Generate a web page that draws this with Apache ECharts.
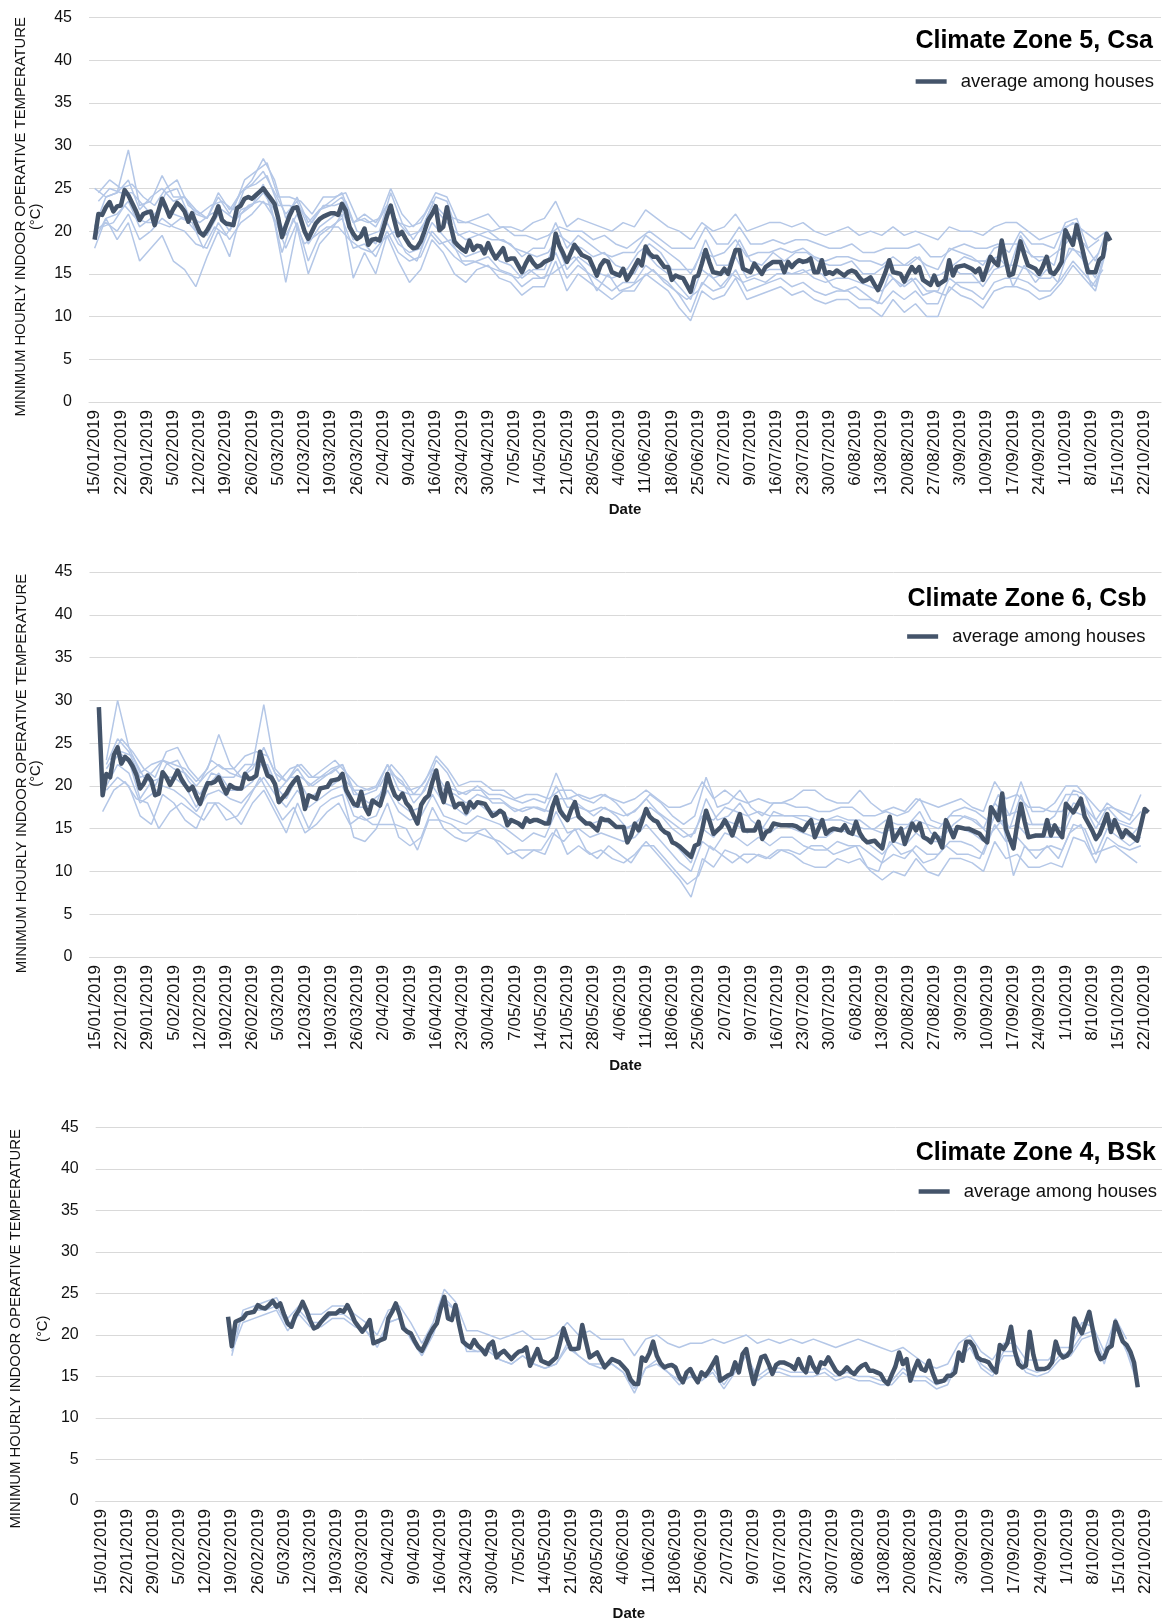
<!DOCTYPE html>
<html>
<head>
<meta charset="utf-8">
<script src="https://cdn.jsdelivr.net/npm/echarts@6/dist/echarts.min.js"></script>
<style>html,body{margin:0;padding:0;background:#fff}#c{width:1163px;height:1622px}</style>
</head>
<body>
<div id="c"></div>
<script>
// ---------- axis / tick labels ----------
const startDate = [2019, 0, 14];   // axis starts 14/01/2019 (first data day 15/01/2019)
const nDays = 286;                 // axis spans 14/01/2019 .. 26/10/2019
const dayOffset = 1;               // category index of 15/01/2019
const tickLabels = ['15/01/2019','22/01/2019','29/01/2019','5/02/2019','12/02/2019','19/02/2019','26/02/2019',
 '5/03/2019','12/03/2019','19/03/2019','26/03/2019','2/04/2019','9/04/2019','16/04/2019','23/04/2019',
 '30/04/2019','7/05/2019','14/05/2019','21/05/2019','28/05/2019','4/06/2019','11/06/2019','18/06/2019',
 '25/06/2019','2/07/2019','9/07/2019','16/07/2019','23/07/2019','30/07/2019','6/08/2019','13/08/2019',
 '20/08/2019','27/08/2019','3/09/2019','10/09/2019','17/09/2019','24/09/2019','1/10/2019','8/10/2019',
 '15/10/2019','22/10/2019'];
const panelTitles = ['Climate Zone 5, Csa', 'Climate Zone 6, Csb', 'Climate Zone 4, BSk'];
const avgName = 'average among houses';
const yNames = ['MINIMUM HOURLY INDOOR OPERATIVE TEMPERATURE\n(°C)',
                'MINIMUM HOURLY INDOOR OPERATIVE TEMPERATURE\n(°C)',
                'MINIMUM HOURLY INDOOR OPERATIVE TEMPERATURE\n\n(°C)'];

// ---------- Climate Zone 5, Csa (day 0 = 15/01/2019) ----------
const csaAvgStart = 0;
const csaAvg = [
 19.0,22.0,21.9,22.8,23.4,22.3,22.9,23.0,24.8,24.2,
 23.3,22.4,21.3,22.0,22.2,22.3,20.7,22.3,23.8,22.8,
 21.7,22.6,23.3,22.9,22.3,21.1,22.1,20.9,19.9,19.5,
 20.1,20.9,21.7,22.9,21.3,20.9,20.8,20.7,22.7,23.0,
 23.8,24.0,23.8,24.2,24.6,25.0,24.4,23.8,23.2,21.5,
 19.3,20.6,21.8,22.7,22.8,21.4,20.0,19.1,20.0,20.9,
 21.4,21.7,21.9,22.1,22.1,21.9,23.2,22.4,20.5,19.7,
 19.1,19.4,20.3,18.4,19.0,19.1,18.9,20.3,21.8,23.0,
 21.2,19.5,19.9,19.1,18.4,18.0,18.1,18.8,20.0,21.3,
 22.0,22.9,20.1,20.5,22.8,20.6,18.8,18.3,17.9,17.6,
 18.9,17.8,18.3,18.2,17.4,18.6,17.6,16.8,17.4,18.0,
 16.6,16.8,16.8,16.0,15.2,16.2,17.0,16.3,15.8,16.0,
 16.4,16.6,16.8,19.7,18.3,17.4,16.4,17.4,18.4,17.8,
 17.2,17.0,16.8,15.8,14.8,16.0,16.6,16.4,15.2,15.0,
 14.8,15.6,14.3,15.0,15.8,16.6,16.0,18.2,17.4,17.0,
 17.0,16.4,15.8,15.8,14.3,14.8,14.6,14.5,13.7,12.9,
 14.6,14.8,16.2,17.8,16.4,15.2,15.1,15.0,15.6,15.0,
 16.4,17.8,17.8,15.6,15.4,15.2,16.2,15.6,15.0,15.8,
 16.1,16.4,16.4,16.4,15.2,16.4,15.8,16.3,16.6,16.4,
 16.5,16.8,15.2,15.2,16.6,15.0,15.2,15.0,15.4,15.1,
 14.8,15.2,15.4,15.2,14.6,14.1,14.3,14.6,13.8,13.1,
 14.1,15.2,16.6,15.2,15.1,15.0,14.1,15.0,15.8,15.2,
 15.8,14.3,14.0,13.7,14.8,13.7,14.0,14.3,16.6,14.8,
 15.8,15.9,16.0,15.8,15.6,15.2,15.6,14.3,15.6,17.0,
 16.4,16.0,18.9,16.8,14.8,15.0,16.8,18.8,17.3,16.0,
 15.8,15.6,15.0,15.9,17.0,15.2,15.0,15.6,16.4,20.1,
 19.2,18.4,20.7,18.9,17.0,15.2,15.2,15.2,16.6,17.0,
 19.7,18.9];
const csaHouseStep = 3;
const csaHouseStarts = [0, 0, 0, 0, 0, 1, 2, 1];
const csaHouse1 = [
 25.0,24.0,24.5,29.5,23.0,23.5,26.5,24.0,24.0,22.5,
 21.5,24.5,22.5,24.5,26.0,28.5,26.0,21.5,24.0,21.0,
 22.5,23.5,24.5,21.0,22.0,21.0,23.0,21.0,20.5,21.0,
 23.5,22.0,21.5,21.0,21.5,22.0,20.5,20.5,20.0,21.0,
 21.5,23.5,20.5,21.5,21.0,20.5,20.0,21.0,20.5,22.5,
 21.5,20.5,20.0,19.0,21.0,20.0,20.5,22.0,20.0,20.5,
 21.0,21.0,20.5,21.0,20.0,19.5,20.0,20.5,19.5,20.0,
 19.5,20.5,19.5,20.0,19.5,19.0,20.5,20.0,20.0,19.5,
 20.5,21.0,21.0,20.0,19.0,19.5,20.0,21.0,20.0,19.0,
 20.0];
const csaHouse2 = [
 20.5,24.0,24.5,26.0,22.5,24.0,25.0,23.5,24.0,22.0,
 21.5,24.0,22.0,24.5,25.5,27.0,24.5,22.0,23.5,20.5,
 22.5,23.0,24.0,21.0,21.5,20.5,23.0,21.0,19.5,20.0,
 23.0,21.5,20.0,19.0,19.5,20.0,19.0,18.5,17.0,18.0,
 18.0,21.0,18.0,19.5,18.5,17.5,17.0,17.5,17.5,19.5,
 18.5,17.5,16.5,15.0,17.5,17.0,17.5,19.0,17.0,17.5,
 17.5,18.0,17.5,18.0,17.0,16.5,17.0,17.0,16.5,16.5,
 16.0,17.0,16.0,17.0,16.0,15.5,18.0,17.5,17.0,16.0,
 18.0,18.5,18.5,17.5,16.5,17.0,18.0,19.5,18.5,16.5,
 20.0];
const csaHouse3 = [
 19.0,21.5,22.0,23.5,20.5,21.5,23.0,22.0,21.5,20.0,
 19.5,22.0,20.0,22.5,23.0,24.5,22.5,19.5,22.0,18.5,
 20.5,21.5,22.5,19.0,19.5,18.5,21.0,18.5,17.5,18.0,
 21.0,19.5,18.0,17.0,17.5,18.0,16.5,16.0,14.5,15.5,
 15.5,19.0,15.5,17.0,16.0,15.0,14.5,15.0,15.0,17.5,
 16.0,15.0,13.5,12.0,15.5,14.5,15.0,17.0,14.5,15.0,
 15.5,15.5,15.0,15.5,14.5,14.0,14.5,14.5,14.0,13.5,
 13.0,14.5,13.5,14.5,13.0,13.0,16.0,15.0,15.0,13.5,
 15.5,16.0,16.0,15.5,14.5,14.5,16.0,18.0,16.5,14.5,
 19.0];
const csaHouse4 = [
 20.0,21.0,20.0,22.0,19.0,20.0,21.5,20.5,20.0,18.5,
 18.0,21.0,19.0,21.0,22.0,23.5,21.5,18.0,21.0,16.5,
 19.5,20.5,21.5,18.0,18.5,17.0,20.0,17.5,16.5,17.0,
 20.0,18.5,17.0,16.0,16.5,17.0,15.5,15.0,13.5,14.5,
 14.5,17.5,14.5,16.0,15.0,14.0,13.0,14.0,14.0,16.0,
 15.0,14.0,12.5,10.5,14.0,13.0,13.5,15.5,13.0,13.5,
 14.0,14.5,13.5,14.0,13.0,12.5,13.0,13.0,12.0,12.0,
 11.5,13.0,12.0,13.0,11.5,11.5,14.5,13.5,13.0,12.0,
 14.0,14.5,14.5,14.0,13.0,13.0,14.5,16.5,15.0,13.5,
 18.5];
const csaHouse5 = [
 18.0,21.5,19.0,21.0,16.5,18.0,19.5,16.5,15.5,13.5,
 17.0,20.0,17.0,22.0,23.0,25.5,21.0,14.0,20.5,15.0,
 18.5,20.0,22.0,14.5,17.5,15.0,19.5,16.5,14.0,15.5,
 19.0,17.5,15.0,14.0,15.5,16.0,14.5,14.0,12.5,13.5,
 13.5,16.5,13.0,15.0,14.0,13.0,12.0,13.0,13.0,15.0,
 14.0,13.0,11.0,9.5,13.0,12.0,12.5,14.5,12.0,12.5,
 13.0,13.5,12.5,13.0,12.0,11.5,12.0,12.0,11.0,11.0,
 10.0,12.0,10.5,11.5,10.0,10.0,13.5,12.5,12.0,11.0,
 13.0,13.5,13.5,13.0,12.0,12.5,14.0,16.0,14.5,13.0,
 18.0];
const csaHouse6 = [
 23.5,25.0,24.5,24.5,23.0,21.5,24.5,25.0,22.0,21.0,
 22.0,22.5,21.5,25.0,25.5,26.5,23.0,23.0,22.5,21.0,
 23.0,23.0,23.5,20.0,19.5,20.0,24.5,21.0,19.0,21.0,
 24.0,23.5,19.5,20.0,19.5,19.0,19.0,18.0,17.5,17.0,
 17.5,19.5,18.5,18.0,17.0,17.5,16.0,15.5,17.5,18.5,
 17.5,15.5,15.5,15.5,19.0,16.0,16.0,19.0,16.5,16.0,
 17.5,16.5,17.5,17.5,16.5,16.0,16.0,16.5,15.0,15.0,
 16.0,16.0,16.0,17.0,14.5,15.0,16.0,17.0,16.5,16.5,
 17.0,15.5,19.5,17.0,17.0,16.0,20.5,21.0,16.0,17.5];
const csaHouse7 = [
 20.5,21.0,23.0,21.5,21.0,21.0,20.5,21.5,21.0,18.0,
 20.5,19.5,21.5,23.0,23.5,23.0,17.5,21.5,18.5,19.5,
 20.5,20.5,19.0,18.0,17.5,19.0,20.0,17.5,16.5,20.0,
 18.5,19.0,16.5,16.5,16.0,15.5,15.0,14.5,15.5,14.5,
 15.0,16.0,17.0,15.5,13.0,15.0,13.0,13.5,14.5,15.5,
 14.0,13.0,12.0,13.0,15.0,13.5,15.0,14.0,14.5,14.0,
 15.0,15.0,15.0,15.5,15.0,13.5,13.0,13.5,12.5,11.5,
 15.0,13.5,14.5,12.5,13.0,12.5,14.0,14.0,14.0,15.5,
 17.5,13.5,16.0,14.0,15.5,14.0,18.0,17.5,13.5,15.5];
const csaHouse8 = [
 24.5,26.0,25.0,25.5,24.0,23.0,25.0,26.0,23.0,22.0,
 23.0,23.5,22.5,26.0,27.0,28.0,24.0,24.0,23.5,22.0,
 24.0,24.0,24.5,21.5,21.0,21.5,25.0,22.0,20.5,22.0,
 24.5,24.0,21.0,21.0,20.5,20.0,20.5,19.5,19.5,19.0,
 19.5,20.5,20.0,20.0,19.0,19.5,18.5,18.0,19.0,20.0,
 19.0,18.0,18.0,18.0,20.5,18.5,18.5,20.5,18.5,18.5,
 19.0,18.5,19.0,19.0,18.5,18.0,18.0,18.5,17.5,17.5,
 18.0,18.0,18.0,18.5,17.0,17.0,18.0,18.5,18.0,18.0,
 18.5,17.5,20.0,18.5,18.5,18.0,21.0,21.5,18.0,19.0];

// ---------- Climate Zone 6, Csb ----------
const csbAvgStart = 1;
const csbAvg = [
 29.2,18.9,21.4,21.0,23.6,24.5,22.6,23.4,23.0,22.3,
 21.3,19.7,20.3,21.2,20.6,18.9,19.1,21.6,21.0,20.1,
 20.9,21.8,20.8,20.1,19.5,19.9,18.8,17.9,19.2,20.3,
 20.3,20.5,21.0,20.0,19.1,20.1,19.8,19.7,19.7,21.4,
 20.8,20.9,21.2,24.0,22.5,21.2,21.0,20.2,18.1,18.6,
 19.1,19.9,20.5,21.0,19.5,17.3,18.9,18.7,18.5,19.7,
 19.8,19.9,20.6,20.7,20.8,21.4,19.5,18.7,17.9,17.7,
 19.3,17.5,16.7,18.3,18.0,17.7,19.2,21.4,20.0,18.9,
 18.5,19.1,18.0,17.5,16.5,15.6,17.8,18.5,18.9,20.5,
 21.8,19.5,18.1,20.3,18.8,17.5,17.9,17.9,16.9,18.1,
 17.5,18.1,18.0,17.9,17.2,16.5,16.7,17.1,16.8,15.4,
 16.0,15.8,15.6,15.2,16.2,15.8,16.0,16.0,15.8,15.6,
 15.6,17.5,18.7,17.1,16.5,16.0,17.2,18.1,16.4,16.0,
 15.6,15.6,15.2,14.8,16.2,16.0,16.0,15.6,15.2,15.2,
 15.2,13.4,14.2,15.6,14.8,16.0,17.3,16.4,16.0,15.8,
 15.0,14.6,14.4,13.4,13.2,12.9,12.5,12.1,11.7,13.0,
 13.2,15.0,17.1,15.8,14.4,14.8,15.2,16.0,15.2,14.2,
 15.5,16.7,14.8,14.8,14.8,14.8,15.8,13.8,14.6,14.8,
 15.6,15.5,15.4,15.4,15.4,15.4,15.3,15.0,14.8,15.5,
 16.0,14.0,15.0,16.0,14.4,14.8,15.0,14.9,14.8,15.4,
 14.6,14.4,15.8,14.5,13.8,13.4,13.5,13.6,13.1,12.7,
 14.8,16.4,13.6,14.3,15.0,13.2,14.4,15.6,14.8,15.6,
 14.0,13.8,13.4,14.4,13.8,12.8,16.0,15.0,14.0,15.2,
 15.1,15.0,15.0,14.8,14.6,14.4,13.8,13.4,17.5,16.8,
 16.0,19.1,15.0,13.8,12.7,15.5,17.9,15.8,14.0,14.1,
 14.2,14.2,14.2,16.0,14.2,15.4,14.6,14.0,17.9,17.4,
 16.9,17.7,18.5,16.4,15.6,14.8,13.8,14.4,15.5,16.7,
 14.6,16.0,15.0,14.0,14.8,14.4,14.0,13.6,15.4,17.3,
 16.9];
const csbHouseStep = 3;
const csbHouseStarts = [0, 0, 0, 0, 0, 1, 2, 1];
const csbHouse1 = [
 null,23.0,30.0,24.5,21.5,22.5,23.0,22.5,22.0,20.5,
 22.0,26.0,22.5,21.0,22.5,29.5,22.0,20.5,22.5,21.0,
 21.0,22.0,22.5,19.5,19.5,20.0,22.5,20.5,19.5,20.0,
 22.0,20.0,19.5,19.0,20.0,19.0,19.0,18.5,18.0,18.5,
 18.0,21.5,18.5,19.0,18.5,19.0,18.5,18.0,18.5,19.5,
 18.5,17.5,17.5,18.0,20.5,18.5,19.5,18.5,18.0,18.5,
 18.0,18.0,18.5,19.5,19.5,18.5,18.0,18.0,19.5,18.0,
 17.0,17.5,17.0,18.5,18.0,17.5,18.0,18.5,17.5,17.0,
 20.5,18.5,19.0,17.5,17.5,17.0,17.0,19.5,19.0,16.0,
 18.0,17.0,16.0,19.0];
const csbHouse2 = [
 null,22.5,25.5,24.0,21.0,21.5,23.0,22.0,21.5,20.0,
 21.5,22.5,21.5,21.0,22.0,24.5,21.5,20.5,22.0,20.0,
 21.0,21.5,22.5,19.0,19.0,19.5,22.5,19.5,19.0,19.0,
 21.5,19.5,19.0,18.0,19.0,18.5,18.5,17.5,17.0,17.5,
 17.0,20.0,17.5,17.5,17.0,17.5,17.0,16.5,17.0,18.5,
 17.0,16.0,15.0,14.0,16.5,16.0,17.5,17.0,16.5,17.0,
 16.5,16.5,16.5,16.0,15.5,16.0,16.5,16.0,16.0,15.0,
 14.5,15.0,15.0,16.0,15.5,15.0,16.5,16.5,16.0,15.0,
 18.0,16.5,17.0,15.5,15.5,15.5,15.0,18.0,17.5,15.0,
 17.5,16.0,15.5,17.0];
const csbHouse3 = [
 null,20.0,22.5,21.5,18.0,19.0,20.0,19.5,18.5,17.0,
 19.0,19.5,18.5,18.0,19.5,21.0,19.0,17.5,19.5,17.5,
 18.5,19.5,20.0,16.5,16.0,16.5,19.5,17.0,16.0,16.5,
 19.0,16.5,16.0,15.5,16.5,16.0,15.5,14.5,13.5,14.5,
 14.0,17.0,14.5,15.0,14.0,14.5,14.0,13.5,14.0,15.5,
 14.0,12.5,11.0,10.0,13.5,12.5,14.5,14.0,13.0,14.0,
 13.0,14.0,14.0,13.0,12.5,12.5,13.5,13.0,13.0,12.0,
 11.0,12.0,11.5,13.0,12.0,12.0,13.5,13.5,13.0,12.0,
 15.5,13.5,14.0,12.5,12.5,13.0,12.5,15.5,15.0,12.0,
 15.0,14.0,13.0,14.0];
const csbHouse4 = [
 null,19.5,21.0,20.0,16.5,15.5,19.0,18.0,16.0,15.0,
 18.0,18.0,17.0,15.5,18.0,19.5,17.0,14.5,18.0,15.0,
 17.5,18.5,19.0,14.0,13.5,15.0,18.0,14.0,13.0,14.0,
 17.5,15.0,14.0,13.5,14.5,14.0,13.5,12.5,11.5,12.5,
 12.0,15.0,12.0,13.0,12.0,12.5,11.5,11.0,12.0,13.5,
 12.0,10.5,9.0,7.0,11.5,10.5,12.5,12.0,11.0,12.0,
 11.5,12.5,12.0,11.0,10.5,10.5,11.5,11.0,11.5,10.0,
 9.0,10.0,9.5,11.5,10.0,9.5,11.5,11.5,11.0,10.0,
 13.5,11.5,12.0,10.5,10.5,11.0,10.5,14.0,13.5,11.0,
 14.0,13.0,12.5,13.0];
const csbHouse5 = [
 null,22.0,24.0,23.0,18.5,20.5,21.0,21.0,20.0,17.5,
 20.0,21.5,19.5,19.5,20.5,23.0,20.0,18.5,21.0,18.5,
 19.5,20.0,21.0,17.5,17.5,18.0,21.0,18.0,17.0,17.5,
 20.0,18.0,17.5,16.5,18.0,17.0,17.0,16.0,15.5,16.0,
 15.5,18.5,16.0,16.5,15.5,16.0,15.5,15.0,15.5,17.0,
 15.5,14.0,12.5,11.0,15.0,14.0,16.0,15.5,14.5,15.5,
 14.5,15.5,15.0,14.5,14.0,14.0,15.0,14.5,14.0,13.0,
 12.0,13.5,13.0,14.5,13.5,13.5,15.0,15.0,14.5,13.5,
 16.5,15.0,15.5,14.0,14.0,14.0,14.0,17.0,16.5,13.5,
 16.5,15.0,14.0,15.5];
const csbHouse6 = [
 null,22.5,24.0,23.5,21.0,20.0,22.5,23.0,20.5,19.0,
 21.5,21.0,21.0,22.5,22.5,22.5,19.5,21.0,21.0,20.0,
 21.0,22.0,20.5,19.0,18.0,19.0,21.5,20.5,18.0,19.5,
 23.0,21.5,19.0,19.5,19.5,18.0,18.0,17.0,17.5,17.5,
 17.0,18.5,18.5,17.5,16.5,17.5,16.5,15.0,16.0,17.5,
 16.5,15.0,14.0,14.5,18.5,16.0,16.5,18.0,16.0,15.0,
 17.0,16.5,16.5,16.5,16.0,16.0,16.0,15.5,15.0,15.0,
 16.0,15.5,15.5,17.0,14.5,14.0,15.5,16.5,16.0,14.5,
 17.5,15.0,19.0,15.5,15.5,16.5,19.0,19.0,17.0,15.5,
 16.0,15.5,15.0];
const csbHouse7 = [
 17.0,19.5,20.5,18.5,18.0,15.0,17.0,18.0,17.0,16.0,
 18.0,16.0,16.5,18.5,21.0,18.5,16.0,17.5,14.5,15.5,
 17.0,18.0,15.5,16.5,15.5,15.5,15.5,15.0,12.5,16.0,
 16.0,15.5,14.5,14.5,15.0,13.5,12.0,12.5,12.5,12.5,
 14.5,13.5,15.0,12.5,11.5,13.0,12.0,11.0,13.0,13.0,
 11.5,10.0,8.5,9.5,13.0,12.0,11.0,12.0,12.0,11.5,
 12.5,12.5,12.0,13.0,13.0,12.0,12.5,13.0,10.5,10.0,
 13.5,12.0,12.5,11.0,11.5,13.0,12.0,12.0,11.5,14.5,
 16.0,9.5,13.0,11.5,13.0,11.5,14.5,15.5,12.0,12.5,
 13.0,12.0,11.0];
const csbHouse8 = [
 null,23.0,25.5,24.0,22.0,21.0,24.0,24.5,22.0,20.5,
 23.0,22.0,22.0,23.5,24.0,23.5,20.5,22.0,22.5,21.0,
 22.0,23.0,21.5,20.0,19.5,20.0,22.5,21.0,19.0,20.5,
 23.5,22.0,20.0,20.5,20.5,19.5,19.5,18.5,19.0,19.0,
 18.5,19.5,19.5,18.5,18.0,19.0,18.0,16.5,17.5,19.0,
 18.0,16.5,15.5,16.5,21.0,17.5,18.0,19.5,17.5,16.5,
 18.0,18.0,17.5,17.5,17.0,17.0,17.5,17.5,16.5,16.5,
 17.0,16.5,17.0,18.5,16.0,15.5,17.0,17.5,17.0,16.0,
 19.0,16.5,20.5,17.0,17.0,18.0,20.0,20.0,18.5,17.0,
 17.5,17.0,16.5];

// ---------- Climate Zone 4, BSk ----------
const bskAvgStart = 34;
const bskAvg = [
 22.2,18.65,21.6,21.8,22.0,22.6,22.7,22.8,23.6,23.3,
 23.2,23.6,24.1,23.4,23.8,22.5,21.4,21.0,22.3,23.0,
 24.0,23.0,21.8,20.8,21.0,21.6,22.1,22.6,22.6,22.6,
 23.0,22.8,23.6,22.7,21.6,21.0,20.4,21.0,21.8,19.0,
 19.2,19.4,19.6,22.0,22.8,23.8,22.5,20.8,20.4,20.2,
 19.3,18.5,18.1,19.0,20.0,20.8,21.4,23.2,24.6,22.0,
 21.8,23.6,21.2,19.2,18.8,18.5,19.4,18.7,18.3,17.7,
 18.8,19.2,17.3,17.8,18.1,17.6,17.1,17.6,18.0,18.1,
 18.5,16.3,17.3,18.3,16.9,16.7,16.5,16.9,17.3,19.0,
 20.8,19.4,18.3,18.3,18.4,21.2,19.2,17.3,17.6,17.9,
 17.0,16.1,16.6,17.1,16.9,16.7,16.2,15.7,14.6,14.1,
 14.1,17.3,16.9,17.8,19.2,17.5,16.6,16.1,16.3,16.4,
 16.1,15.0,14.3,15.5,15.9,15.0,14.3,15.5,15.1,15.7,
 16.5,17.3,14.5,14.8,15.1,15.3,16.7,15.5,17.7,18.3,
 16.0,14.1,15.8,17.3,17.5,16.5,15.3,16.4,16.7,16.7,
 16.5,16.3,15.9,17.1,16.0,15.5,17.3,16.2,15.5,16.7,
 16.5,17.3,16.5,15.7,15.3,15.6,16.1,15.6,15.3,15.9,
 16.3,16.5,15.7,15.7,15.5,15.3,14.5,14.1,15.2,16.2,
 17.9,16.5,17.1,14.5,15.8,16.9,15.9,15.7,16.9,15.4,
 14.3,14.4,14.5,15.1,15.1,15.5,17.9,16.9,19.2,19.2,
 18.6,17.3,17.0,16.9,16.7,16.0,15.5,18.8,18.3,19.0,
 21.0,18.1,16.5,16.1,16.3,20.4,17.6,15.9,15.9,15.9,
 16.1,16.7,19.2,17.8,17.3,17.5,18.1,22.0,21.0,20.2,
 21.5,22.8,20.5,18.1,17.1,17.3,18.4,18.7,21.6,20.4,
 19.2,18.8,18.0,16.7,13.7];
const bskHouseStep = 3;
const bskHouseStarts = [35, 35, 35];
const bskHouse1 = [
 17.5,23.0,23.5,24.0,24.5,22.0,23.5,22.5,22.5,23.5,
 23.5,22.5,21.5,20.0,23.0,23.5,21.5,19.0,21.5,25.5,
 24.0,20.5,20.5,20.0,19.5,20.0,20.5,19.5,19.5,20.0,
 21.5,20.0,20.5,19.5,19.5,19.5,17.5,19.5,20.0,19.0,
 18.5,19.0,19.0,19.5,19.0,19.5,20.0,19.0,19.5,19.0,
 19.5,19.0,19.5,19.0,18.5,19.0,19.5,19.0,18.5,18.0,
 18.5,17.5,16.5,16.0,16.5,19.0,20.0,18.0,17.0,19.0,
 19.0,17.0,17.0,17.0,18.5,18.5,21.5,21.0,18.0,22.0,
 19.5];
const bskHouse2 = [
 18.0,21.5,22.0,22.5,23.0,20.5,22.5,21.0,21.0,22.0,
 22.0,21.0,20.5,18.5,21.5,22.0,19.5,17.5,20.0,24.0,
 23.0,18.0,18.0,18.0,17.0,16.5,17.5,16.5,16.0,16.5,
 18.5,17.5,16.5,16.0,16.5,15.5,13.0,16.0,16.5,15.5,
 14.0,15.0,14.5,15.5,13.5,15.5,17.5,14.5,15.5,15.5,
 15.0,15.0,15.0,15.5,14.5,15.0,14.5,14.5,14.0,14.0,
 15.5,14.5,14.5,13.5,14.0,17.0,18.5,16.0,15.0,17.5,
 17.5,15.5,15.0,15.5,17.0,17.5,19.5,20.0,16.5,21.0,
 18.0,14.0];
const bskHouse3 = [
 19.0,22.5,23.0,23.0,23.5,21.0,23.0,21.5,21.5,22.5,
 22.5,21.5,20.5,19.0,21.5,22.0,20.0,17.5,20.5,24.5,
 23.0,18.5,18.0,18.5,17.0,16.5,17.5,16.5,16.0,16.5,
 19.0,17.5,16.5,16.5,16.5,15.5,13.5,16.0,17.0,15.5,
 14.5,15.0,14.5,16.0,14.0,16.0,17.5,15.0,16.0,16.0,
 15.5,15.5,15.5,16.0,15.0,15.5,15.0,15.0,14.5,14.5,
 16.0,15.0,15.0,14.0,14.5,17.5,19.0,16.5,15.5,18.0,
 18.0,16.0,15.5,16.0,17.5,18.0,20.0,20.5,17.0,21.5,
 18.5,14.5];

// ---------- build chart ----------
const categories = [];
for (let i = 0; i < nDays; i++) {
  const d = new Date(Date.UTC(startDate[0], startDate[1], startDate[2] + i));
  categories.push(d.getUTCDate() + '/' + String(d.getUTCMonth() + 1).padStart(2, '0') + '/' + d.getUTCFullYear());
}
function toPairs(arr, start, step) {
  const out = [];
  arr.forEach((v, i) => { if (v !== null && v !== undefined) out.push([dayOffset + start + i * step, v]); });
  return out;
}
const FONT = 'Liberation Sans, Arial, sans-serif';
const HOUSE_COLOR = '#b4c7e7';
const AVG_COLOR = '#44546a';

const grids = [
  { left: 89, width: 1072, top: 17.5, height: 384.5 },
  { left: 89.5, width: 1072, top: 572, height: 385 },
  { left: 81, width: 1081, top: 1127.5, height: 378 }
];
const panels = [
  { avg: csaAvg, avgStart: csaAvgStart, houses: [csaHouse1, csaHouse2, csaHouse3, csaHouse4, csaHouse5, csaHouse6, csaHouse7, csaHouse8], starts: csaHouseStarts, step: csaHouseStep },
  { avg: csbAvg, avgStart: csbAvgStart, houses: [csbHouse1, csbHouse2, csbHouse3, csbHouse4, csbHouse5, csbHouse6, csbHouse7, csbHouse8], starts: csbHouseStarts, step: csbHouseStep },
  { avg: bskAvg, avgStart: bskAvgStart, houses: [bskHouse1, bskHouse2, bskHouse3], starts: bskHouseStarts, step: bskHouseStep }
];
const yNameGap = [44.5, 45, 39.5];
const yNameLineHeight = [14.5, 14.5, 13.5];
const yNamePadEnd = [14, 18, 29];
const xNameGap = [100, 101, 105];

const xAxes = [], yAxes = [], series = [];
grids.forEach((g, gi) => {
  xAxes.push({
    type: 'category', gridIndex: gi, data: categories, boundaryGap: true,
    axisTick: { show: false },
    axisLine: { lineStyle: { color: '#d9d9d9', width: 1 } },
    axisLabel: { interval: (i) => (i - dayOffset) % 7 === 0, rotate: 90, fontSize: 17, color: '#111', fontFamily: FONT, margin: 8,
      formatter: (v, i) => tickLabels[Math.round((i - dayOffset) / 7)] },
    name: 'Date', nameLocation: 'middle', nameGap: xNameGap[gi],
    nameTextStyle: { fontSize: 15, fontWeight: 'bold', color: '#111', fontFamily: FONT }
  });
  yAxes.push({
    type: 'value', gridIndex: gi, min: 0, max: 45, interval: 5,
    axisLine: { show: false }, axisTick: { show: false },
    axisLabel: { fontSize: 16, color: '#111', fontFamily: FONT, margin: 17 },
    splitLine: { lineStyle: { color: '#d9d9d9', width: 1 } },
    name: yNames[gi], nameLocation: 'middle', nameRotate: 90, nameGap: yNameGap[gi],
    nameTextStyle: { fontSize: 14.9, lineHeight: yNameLineHeight[gi], color: '#111', fontFamily: FONT,
      align: 'center', padding: [0, yNamePadEnd[gi], 0, 0] }
  });
  const p = panels[gi];
  p.houses.forEach((h, hi) => {
    series.push({
      type: 'line', xAxisIndex: gi, yAxisIndex: gi, data: toPairs(h, p.starts[hi], p.step),
      showSymbol: false, silent: true, animation: false, z: 1,
      lineStyle: { color: HOUSE_COLOR, width: 1.5 }, itemStyle: { color: HOUSE_COLOR }
    });
  });
  series.push({
    name: avgName, type: 'line', xAxisIndex: gi, yAxisIndex: gi, data: toPairs(p.avg, p.avgStart, 1),
    showSymbol: false, animation: false, z: 3,
    lineStyle: { color: AVG_COLOR, width: 4.5, join: 'round' }, itemStyle: { color: AVG_COLOR }
  });
});

const titleTops = [28.5, 586.5, 1141];
const titleRights = [10, 16.5, 7];
const legendTops = [72, 627, 1182];
const legendRights = [9, 17.5, 6];

const option = {
  backgroundColor: '#fff',
  animation: false,
  title: panelTitles.map((t, i) => ({
    text: t, right: titleRights[i], top: titleTops[i], padding: 0,
    textStyle: { fontFamily: FONT, fontWeight: 'bold', fontSize: 25, color: '#000' }
  })),
  legend: legendTops.map((t, i) => ({
    data: [avgName], right: legendRights[i], top: t, padding: 0,
    icon: 'rect', itemWidth: 31, itemHeight: 4.5,
    textStyle: { fontSize: 18.5, color: '#111', fontFamily: FONT, padding: [0, 0, 0, 9] }
  })),
  grid: grids,
  xAxis: xAxes,
  yAxis: yAxes,
  series: series
};
const chart = echarts.init(document.getElementById('c'), null, { renderer: 'canvas' });
chart.setOption(option);
</script>
</body>
</html>
